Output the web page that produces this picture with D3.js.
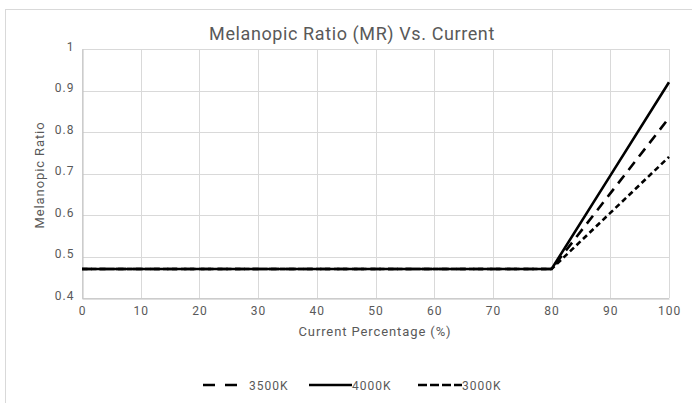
<!DOCTYPE html>
<html>
<head>
<meta charset="utf-8">
<script src="https://cdn.jsdelivr.net/npm/d3@7"></script>
<style>
  body { margin: 0; background: #fff; }
  text { font-family: Roboto, "Noto Sans", sans-serif; fill: #595959; }
</style>
</head>
<body>
<div id="plot-container"></div>
<script>
// values
var currentPct = [0, 10, 20, 30, 40, 50, 60, 70, 80, 90, 100];
var mr3500 = [0.47, 0.47, 0.47, 0.47, 0.47, 0.47, 0.47, 0.47, 0.47, 0.652, 0.834];
var mr4000 = [0.47, 0.47, 0.47, 0.47, 0.47, 0.47, 0.47, 0.47, 0.47, 0.695, 0.92];
var mr3000 = [0.47, 0.47, 0.47, 0.47, 0.47, 0.47, 0.47, 0.47, 0.47, 0.605, 0.74];
var seriesNames = ['3500K', '4000K', '3000K'];
var xTicks = [0, 10, 20, 30, 40, 50, 60, 70, 80, 90, 100];
var yTicks = [0.4, 0.5, 0.6, 0.7, 0.8, 0.9, 1];

var dashes = { '3500K': '10,7', '4000K': null, '3000K': '5.5,3.5' };
var seriesValues = { '3500K': mr3500, '4000K': mr4000, '3000K': mr3000 };

var W = 692, H = 403;
var svg = d3.select('#plot-container').append('svg')
    .attr('width', W).attr('height', H);

// outer chart border
svg.append('rect')
    .attr('x', 5.5).attr('y', 9.5)
    .attr('width', 720).attr('height', 420)
    .attr('fill', 'none').attr('stroke', '#d9d9d9');

var x = d3.scaleLinear().domain([0, 100]).range([82, 669]);
var y = d3.scaleLinear().domain([0.4, 1]).range([298, 49]);

// gridlines
svg.append('g').selectAll('line').data(yTicks).enter().append('line')
    .attr('x1', x(0)).attr('x2', x(100))
    .attr('y1', function (d) { return Math.round(y(d)) + 0.5; })
    .attr('y2', function (d) { return Math.round(y(d)) + 0.5; })
    .attr('stroke', '#d9d9d9').attr('stroke-width', 1);
svg.append('g').selectAll('line').data(xTicks).enter().append('line')
    .attr('y1', y(0.4)).attr('y2', y(1))
    .attr('x1', function (d) { return Math.round(x(d)) + 0.5; })
    .attr('x2', function (d) { return Math.round(x(d)) + 0.5; })
    .attr('stroke', '#d9d9d9').attr('stroke-width', 1);

// axes
var xAxis = svg.append('g')
    .attr('transform', 'translate(0,' + (Math.round(y(0.4)) + 0.5) + ')')
    .call(d3.axisBottom(x).tickValues(xTicks).tickSize(0).tickPadding(6));
var yAxis = svg.append('g')
    .attr('transform', 'translate(' + (Math.round(x(0)) + 0.5) + ',0)')
    .call(d3.axisLeft(y).tickValues(yTicks).tickSize(0).tickPadding(8)
        .tickFormat(function (d) { return d3.format('')(d); }));
[xAxis, yAxis].forEach(function (a) {
    a.select('.domain').attr('stroke', '#bfbfbf');
    a.selectAll('text').attr('font-size', '12px').attr('fill', '#595959')
        .attr('letter-spacing', '1px')
        .style('font-family', 'Roboto, "Noto Sans", sans-serif');
});
xAxis.selectAll('text').attr('dy', '0.85em');
yAxis.selectAll('text').attr('dy', '0.1em');

// lines
var line = d3.line()
    .x(function (d) { return x(d[0]); })
    .y(function (d) { return y(d[1]); });
seriesNames.forEach(function (name) {
    var pts = currentPct.map(function (c, i) { return [c, seriesValues[name][i]]; });
    svg.append('path').datum(pts)
        .attr('d', line)
        .attr('fill', 'none').attr('stroke', '#000')
        .attr('stroke-width', 2.6)
        .attr('stroke-dasharray', dashes[name]);
});

// titles
svg.append('text').attr('x', 352).attr('y', 40)
    .attr('text-anchor', 'middle').attr('font-size', '18px')
    .attr('letter-spacing', '0.6px')
    .text('Melanopic Ratio (MR) Vs. Current');
svg.append('text').attr('x', 375).attr('y', 336)
    .attr('text-anchor', 'middle').attr('font-size', '13px')
    .attr('letter-spacing', '0.9px')
    .text('Current Percentage (%)');
svg.append('text')
    .attr('transform', 'translate(44,175) rotate(-90)')
    .attr('text-anchor', 'middle').attr('font-size', '13px')
    .attr('letter-spacing', '0.9px')
    .text('Melanopic Ratio');

// legend
var legendPos = [{ x1: 203, x2: 238, tx: 249 }, { x1: 309, x2: 352, tx: 352 }, { x1: 418, x2: 462, tx: 462 }];
seriesNames.forEach(function (name, i) {
    var p = legendPos[i];
    svg.append('line')
        .attr('x1', p.x1).attr('x2', p.x2).attr('y1', 385).attr('y2', 385)
        .attr('stroke', '#000').attr('stroke-width', 2.6)
        .attr('stroke-dasharray', name === '3500K' ? '12,10' : (name === '3000K' ? '9,3' : null));
    svg.append('text').attr('x', p.tx).attr('y', 389.5)
        .attr('font-size', '12px').attr('letter-spacing', '1px').text(name);
});
</script>
</body>
</html>
